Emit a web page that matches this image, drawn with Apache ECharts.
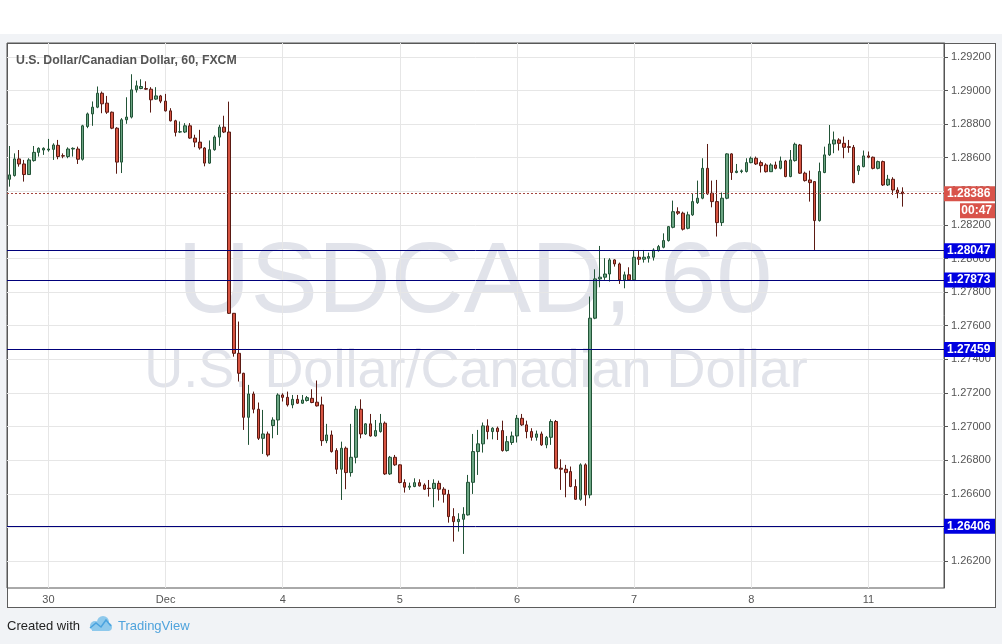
<!DOCTYPE html>
<html>
<head>
<meta charset="utf-8">
<script src="https://cdn.jsdelivr.net/npm/echarts@6/dist/echarts.min.js"></script>
<style>
  html, body { margin: 0; padding: 0; width: 1002px; height: 644px; overflow: hidden; background: #f1f3f6; }
  #top { position: absolute; left: 0; top: 0; width: 1002px; height: 34px; background: #ffffff; }
  #frame { position: absolute; left: 7px; top: 43px; width: 989px; height: 565px; box-sizing: border-box; background: #ffffff; border: 1px solid #5c5c5c; }
  #chart { position: absolute; left: 0; top: 0; width: 1002px; height: 644px; }
</style>
</head>
<body>
<div id="top"></div>
<div id="frame"></div>
<div id="chart"></div>
<script>
// ---- data ----
const dayLabels = ['30', 'Dec', '4', '5', '6', '7', '8', '11'];
const dayStarts = [8, 32, 56, 80, 104, 128, 152, 176];
const slotCount = 192;

const opens = [
1.28472,1.28494,1.28593,1.28563,1.28500,1.28583,1.28632,1.28646,1.28646,1.28650,
1.28674,1.28612,1.28607,1.28652,1.28652,1.28591,1.28786,1.28861,1.28901,1.28984,
1.28925,1.28871,1.28776,1.28574,1.28826,1.28842,1.29004,1.29012,1.29012,1.29008,
1.28949,1.28968,1.28937,1.28879,1.28820,1.28753,1.28753,1.28790,1.28717,1.28693,
1.28658,1.28568,1.28648,1.28723,1.28782,1.28753,1.27674,1.27436,1.27317,1.27055,
1.27194,1.27103,1.26930,1.26956,1.27006,1.27039,1.27188,1.27174,1.27129,1.27162,
1.27139,1.27155,1.27168,1.27145,1.27129,1.26916,1.26950,1.26857,1.26746,1.26871,
1.26726,1.26817,1.27103,1.26956,1.27016,1.26944,1.26970,1.27020,1.26718,1.26817,
1.26772,1.26667,1.26639,1.26643,1.26666,1.26652,1.26633,1.26631,1.26662,1.26627,
1.26597,1.26464,1.26434,1.26448,1.26474,1.26668,1.26851,1.26897,1.27004,1.26970,
1.26990,1.26976,1.26857,1.26905,1.26944,1.27049,1.27010,1.26970,1.26936,1.26956,
1.26891,1.26936,1.27030,1.26752,1.26746,1.26732,1.26643,1.26567,1.26772,1.26593,
1.27645,1.27879,1.27889,1.27908,1.27992,1.27968,1.27873,1.27903,1.27873,1.28008,
1.27996,1.28002,1.28008,1.28047,1.28067,1.28107,1.28186,1.28279,1.28270,1.28180,
1.28260,1.28333,1.28359,1.28537,1.28389,1.28339,1.28214,1.28359,1.28623,1.28512,
1.28518,1.28518,1.28571,1.28597,1.28571,1.28557,1.28517,1.28557,1.28537,1.28581,
1.28488,1.28583,1.28676,1.28508,1.28468,1.28458,1.28226,1.28512,1.28617,1.28682,
1.28706,1.28686,1.28666,1.28662,1.28523,1.28547,1.28611,1.28603,1.28537,1.28577,
1.28438,1.28472,1.28408,1.28396
];
const highs = [
1.28670,1.28626,1.28646,1.28587,1.28597,1.28670,1.28662,1.28662,1.28712,1.28686,
1.28706,1.28626,1.28662,1.28662,1.28666,1.28796,1.28869,1.28935,1.29024,1.28994,
1.28968,1.28875,1.28782,1.28836,1.28960,1.29097,1.29059,1.29067,1.29055,1.29020,
1.29020,1.28974,1.28980,1.28895,1.28826,1.28816,1.28806,1.28806,1.28737,1.28766,
1.28663,1.28703,1.28733,1.28796,1.28850,1.28934,1.27676,1.27625,1.27320,1.27248,
1.27208,1.27143,1.27099,1.26970,1.27055,1.27198,1.27198,1.27208,1.27188,1.27188,
1.27188,1.27182,1.27222,1.27274,1.27178,1.27016,1.26976,1.26871,1.26910,1.26881,
1.27016,1.27123,1.27162,1.27020,1.27075,1.27039,1.27075,1.27030,1.26825,1.26831,
1.26775,1.26686,1.26666,1.26692,1.26686,1.26662,1.26682,1.26686,1.26678,1.26639,
1.26623,1.26514,1.26484,1.26520,1.26712,1.26956,1.26980,1.27024,1.27043,1.26996,
1.27000,1.27035,1.26944,1.26970,1.27069,1.27075,1.27035,1.26990,1.26976,1.26970,
1.26944,1.27043,1.27039,1.26805,1.26772,1.26762,1.26686,1.26781,1.26781,1.27774,
1.27936,1.28075,1.28002,1.28002,1.27996,1.27976,1.27922,1.27948,1.28051,1.28051,
1.28051,1.28035,1.28061,1.28081,1.28150,1.28194,1.28345,1.28305,1.28279,1.28279,
1.28385,1.28464,1.28597,1.28682,1.28464,1.28468,1.28393,1.28627,1.28627,1.28563,
1.28530,1.28597,1.28607,1.28607,1.28583,1.28567,1.28567,1.28577,1.28607,1.28587,
1.28646,1.28690,1.28682,1.28517,1.28523,1.28460,1.28571,1.28666,1.28795,1.28756,
1.28716,1.28726,1.28706,1.28676,1.28557,1.28643,1.28637,1.28607,1.28583,1.28583,
1.28498,1.28484,1.28424,1.28424
];
const lows = [
1.28428,1.28488,1.28547,1.28458,1.28498,1.28577,1.28607,1.28617,1.28636,1.28587,
1.28591,1.28597,1.28597,1.28607,1.28563,1.28583,1.28776,1.28790,1.28895,1.28865,
1.28861,1.28770,1.28505,1.28509,1.28802,1.28834,1.28988,1.29008,1.29004,1.28869,
1.28945,1.28925,1.28875,1.28816,1.28727,1.28747,1.28747,1.28713,1.28663,1.28648,
1.28549,1.28564,1.28642,1.28671,1.28747,1.27670,1.27416,1.27268,1.26980,1.26891,
1.27079,1.26920,1.26837,1.26821,1.26930,1.26950,1.27149,1.27119,1.27109,1.27135,
1.27135,1.27149,1.27139,1.27119,1.26885,1.26901,1.26845,1.26718,1.26563,1.26627,
1.26702,1.26781,1.26930,1.26950,1.26940,1.26940,1.26964,1.26712,1.26712,1.26766,
1.26662,1.26607,1.26623,1.26639,1.26643,1.26623,1.26583,1.26520,1.26559,1.26547,
1.26428,1.26315,1.26375,1.26242,1.26470,1.26599,1.26712,1.26845,1.26924,1.26924,
1.26920,1.26851,1.26851,1.26891,1.26905,1.27004,1.26930,1.26916,1.26916,1.26885,
1.26871,1.26891,1.26746,1.26623,1.26579,1.26639,1.26563,1.26559,1.26528,1.26573,
1.27639,1.27829,1.27873,1.27863,1.27952,1.27849,1.27823,1.27869,1.27869,1.27962,
1.27976,1.27976,1.27988,1.28041,1.28061,1.28101,1.28180,1.28260,1.28167,1.28174,
1.28254,1.28325,1.28353,1.28379,1.28305,1.28131,1.28194,1.28353,1.28468,1.28508,
1.28508,1.28512,1.28567,1.28557,1.28512,1.28512,1.28517,1.28531,1.28531,1.28484,
1.28484,1.28577,1.28504,1.28458,1.28339,1.28051,1.28220,1.28508,1.28611,1.28627,
1.28643,1.28597,1.28630,1.28448,1.28498,1.28543,1.28597,1.28531,1.28531,1.28432,
1.28432,1.28379,1.28359,1.28309
];
const closes = [
1.28498,1.28593,1.28563,1.28500,1.28587,1.28632,1.28656,1.28656,1.28652,1.28676,
1.28607,1.28610,1.28652,1.28656,1.28591,1.28790,1.28861,1.28901,1.28984,1.28921,
1.28871,1.28776,1.28574,1.28826,1.28842,1.29004,1.29028,1.29024,1.29008,1.28945,
1.28968,1.28937,1.28879,1.28820,1.28751,1.28755,1.28790,1.28717,1.28693,1.28658,
1.28568,1.28648,1.28723,1.28782,1.28753,1.27674,1.27436,1.27317,1.27055,1.27194,
1.27103,1.26930,1.26956,1.26831,1.27039,1.27188,1.27174,1.27129,1.27162,1.27139,
1.27158,1.27172,1.27143,1.27123,1.26916,1.26950,1.26851,1.26746,1.26871,1.26726,
1.26817,1.27103,1.26956,1.27016,1.26944,1.26976,1.27020,1.26718,1.26817,1.26772,
1.26667,1.26639,1.26645,1.26666,1.26647,1.26627,1.26631,1.26662,1.26627,1.26597,
1.26464,1.26434,1.26448,1.26478,1.26668,1.26851,1.26897,1.27004,1.26970,1.26990,
1.26970,1.26857,1.26910,1.26944,1.27049,1.27010,1.26970,1.26936,1.26956,1.26891,
1.26936,1.27030,1.26752,1.26746,1.26726,1.26643,1.26567,1.26772,1.26593,1.27645,
1.27879,1.27889,1.27908,1.27992,1.27968,1.27873,1.27903,1.27873,1.28008,1.27996,
1.28008,1.28012,1.28051,1.28071,1.28107,1.28190,1.28279,1.28270,1.28175,1.28260,
1.28339,1.28359,1.28537,1.28385,1.28339,1.28214,1.28359,1.28623,1.28512,1.28520,
1.28522,1.28571,1.28597,1.28563,1.28553,1.28517,1.28557,1.28537,1.28581,1.28488,
1.28587,1.28680,1.28508,1.28464,1.28452,1.28226,1.28518,1.28617,1.28682,1.28706,
1.28686,1.28662,1.28662,1.28452,1.28551,1.28611,1.28603,1.28537,1.28577,1.28438,
1.28472,1.28408,1.28392,1.28386
];

const yTicks = [1.262, 1.264, 1.266, 1.268, 1.270, 1.272, 1.274, 1.276, 1.278, 1.280, 1.282, 1.284, 1.286, 1.288, 1.290, 1.292];
const yMin = 1.26039, yMax = 1.29283;
const levels = [1.28047, 1.27873, 1.27459, 1.26406];
const lastPrice = 1.28386;
const countdown = '00:47';
const titleText = 'U.S. Dollar/Canadian Dollar, 60, FXCM';
const watermark1 = 'USDCAD, 60';
const watermark2 = 'U.S. Dollar/Canadian Dollar';

// ---- build ----
const categories = [];
for (let i = 0; i < slotCount; i++) {
  const k = dayStarts.indexOf(i);
  categories.push(k >= 0 ? dayLabels[k] : '');
}
const candles = opens.map((o, i) => [o, closes[i], lows[i], highs[i]]);

const FONT = 'Liberation Sans';

const levelMarks = levels.map(v => ({
  yAxis: v,
  lineStyle: { color: '#00007a', width: 1, type: 'solid' },
  label: {
    show: true, position: 'end', distance: 0,
    formatter: v.toFixed(5),
    color: '#ffffff', fontWeight: 'bold', fontSize: 12, fontFamily: FONT,
    backgroundColor: '#0000e0', padding: [1, 3, 0, 3], width: 45, lineHeight: 14, align: 'left'
  }
}));

const priceMark = {
  yAxis: lastPrice,
  lineStyle: { color: '#a5473f', width: 1, type: [2, 2] },
  label: {
    show: true, position: 'end', distance: 0,
    formatter: '{s|}\n{p|' + lastPrice.toFixed(5) + '}\n{t|' + countdown + '}',
    align: 'left',
    rich: {
      s: { height: 15, lineHeight: 17, width: 51 },
      p: { color: '#fff', fontWeight: 'bold', fontSize: 12, fontFamily: FONT, backgroundColor: '#d9534a',
           width: 45, height: 15, lineHeight: 17, padding: [0, 3] },
      t: { color: '#fff', fontWeight: 'bold', fontSize: 12, fontFamily: FONT, backgroundColor: '#d9534a',
           width: 29, height: 15, lineHeight: 17, padding: [0, 3], align: 'right' }
    }
  }
};

const chart = echarts.init(document.getElementById('chart'), null, { renderer: 'canvas' });
chart.setOption({
  animation: false,
  backgroundColor: 'transparent',
  textStyle: { fontFamily: FONT },
  title: {
    text: titleText, left: 16, top: 55, padding: 0,
    textStyle: { fontSize: 12.3, fontWeight: 'bold', color: '#555555', fontFamily: FONT }
  },
  grid: {
    left: 7, right: 58, top: 43, bottom: 56,
    show: true, borderColor: '#555555', borderWidth: 1, backgroundColor: 'transparent'
  },
  xAxis: [
    {
      type: 'category', data: categories, boundaryGap: true, position: 'bottom',
      axisLine: { show: false, onZero: false }, axisTick: { show: false },
      axisLabel: {
        interval: (idx, val) => val !== '',
        color: '#555555', fontSize: 11, margin: 6, fontFamily: FONT
      },
      splitLine: { show: false }
    },
    {
      type: 'value', position: 'top', min: -0.5, max: slotCount - 0.5,
      axisLine: { show: false, onZero: false },
      axisTick: { show: false, customValues: dayStarts },
      axisLabel: { show: false, customValues: dayStarts },
      splitLine: { show: true, lineStyle: { color: '#e6e6e6', width: 1 } }
    }
  ],
  yAxis: {
    type: 'value', position: 'right', min: yMin, max: yMax,
    axisLine: { show: true, onZero: false, lineStyle: { color: '#555555' } },
    axisTick: { show: true, inside: false, length: 4, customValues: yTicks, lineStyle: { color: '#555555' } },
    axisLabel: {
      customValues: yTicks, formatter: v => v.toFixed(5),
      color: '#555555', fontSize: 11, margin: 7, fontFamily: FONT
    },
    splitLine: { show: true, lineStyle: { color: '#e6e6e6', width: 1 } }
  },
  graphic: [
    { type: 'text', x: 475, y: 284, z: 0, silent: true,
      style: { text: watermark1, fontSize: 101, fontFamily: FONT, fill: '#e1e3ea', align: 'center', verticalAlign: 'middle' } },
    { type: 'text', x: 476, y: 372, z: 0, silent: true,
      style: { text: watermark2, fontSize: 54, fontFamily: FONT, fill: '#e1e3ea', align: 'center', verticalAlign: 'middle' } },
    { type: 'text', x: 7, y: 626, silent: true,
      style: { text: 'Created with', fontSize: 13, fontFamily: FONT, fill: '#222222', verticalAlign: 'middle' } },
    { type: 'group', silent: true, children: [
      { type: 'circle', shape: { cx: 95, cy: 626, r: 5 }, style: { fill: '#8ec9ec' } },
      { type: 'circle', shape: { cx: 103, cy: 622, r: 6 }, style: { fill: '#8ec9ec' } },
      { type: 'circle', shape: { cx: 108, cy: 627, r: 4 }, style: { fill: '#8ec9ec' } },
      { type: 'rect', shape: { x: 92, y: 626, width: 17, height: 5 }, style: { fill: '#8ec9ec' } },
      { type: 'polyline', shape: { points: [[90, 628], [96, 623], [101, 627], [106, 620], [111, 626]] },
        style: { stroke: '#4aa3df', lineWidth: 1.5, fill: null } }
    ] },
    { type: 'text', x: 118, y: 626, silent: true,
      style: { text: 'TradingView', fontSize: 13, fontFamily: FONT, fill: '#4fa3dc', verticalAlign: 'middle' } }
  ],
  series: [
    {
      type: 'candlestick',
      xAxisIndex: 0, yAxisIndex: 0,
      data: candles,
      barWidth: 3,
      itemStyle: {
        color: '#6ba583', color0: '#d75442',
        borderColor: '#225437', borderColor0: '#5b1a13', borderWidth: 1
      },
      markLine: {
        silent: true, symbol: ['none', 'none'], animation: false, precision: 5,
        data: levelMarks.concat([priceMark])
      }
    }
  ]
});
</script>
</body>
</html>
